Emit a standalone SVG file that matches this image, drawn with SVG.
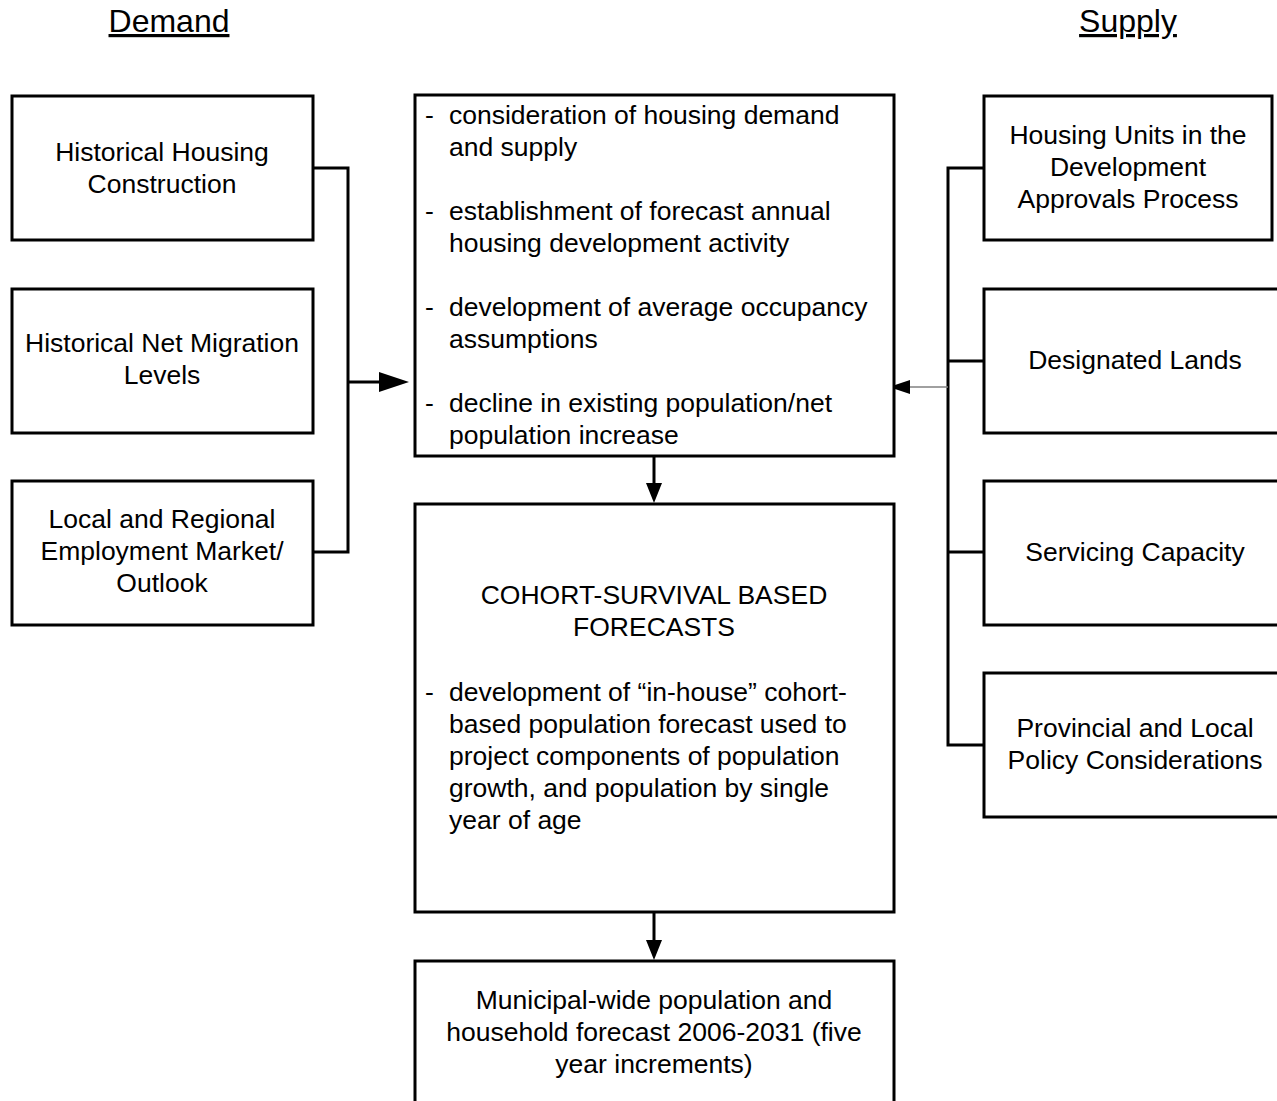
<svg xmlns="http://www.w3.org/2000/svg" width="1277" height="1101" viewBox="0 0 1277 1101">
<style>
text{font-family:"Liberation Sans",Arial,sans-serif;font-size:26.5px;fill:#000}
.c{text-anchor:middle}
.h{font-size:32px;text-anchor:middle;text-decoration:underline}
.box{fill:#fff;stroke:#000;stroke-width:3}
.ln{fill:none;stroke:#000;stroke-width:3}
.thin{fill:none;stroke:#808080;stroke-width:1.5}
</style>
<rect width="1277" height="1101" fill="#fff"/>
<g id="headings">
<text class="h" x="169" y="32">Demand</text>
<text class="h" x="1128" y="32">Supply</text>
</g>
<g id="connectors">
<path class="ln" d="M313 168H348V552H313M348 382H380"/>
<polygon points="379,372 409,382 379,392" fill="#000"/>
<path class="ln" d="M654 456V484"/>
<polygon points="646,483 662,483 654,503" fill="#000"/>
<path class="ln" d="M654 912V941"/>
<polygon points="646,940 662,940 654,960" fill="#000"/>
<path class="ln" d="M984 168H948V745H984M948 361H984M948 552H984"/>
<path class="thin" d="M948 387H908"/>
<polygon points="910,380 889,387 910,394" fill="#000"/>
</g>
<g id="hist-housing">
<rect class="box" x="12" y="96" width="301" height="144"/>
<text class="c" x="162" y="160.5">Historical Housing</text>
<text class="c" x="162" y="192.5">Construction</text>
</g>
<g id="hist-migration">
<rect class="box" x="12" y="289" width="301" height="144"/>
<text class="c" x="162" y="351.5">Historical Net Migration</text>
<text class="c" x="162" y="383.5">Levels</text>
</g>
<g id="employment">
<rect class="box" x="12" y="481" width="301" height="144"/>
<text class="c" x="162" y="527.5">Local and Regional</text>
<text class="c" x="162" y="559.5">Employment Market/</text>
<text class="c" x="162" y="591.5">Outlook</text>
</g>
<g id="consideration">
<rect class="box" x="415" y="95" width="479" height="361"/>
<text x="425" y="123.5">-</text><text x="449" y="123.5">consideration of housing demand</text>
<text x="449" y="155.5">and supply</text>
<text x="425" y="219.5">-</text><text x="449" y="219.5">establishment of forecast annual</text>
<text x="449" y="251.5">housing development activity</text>
<text x="425" y="315.5">-</text><text x="449" y="315.5">development of average occupancy</text>
<text x="449" y="347.5">assumptions</text>
<text x="425" y="411.5">-</text><text x="449" y="411.5">decline in existing population/net</text>
<text x="449" y="443.5">population increase</text>
</g>
<g id="cohort">
<rect class="box" x="415" y="504" width="479" height="408"/>
<text class="c" x="654" y="603.5">COHORT-SURVIVAL BASED</text>
<text class="c" x="654" y="635.5">FORECASTS</text>
<text x="425" y="700.5">-</text><text x="449" y="700.5">development of “in-house” cohort-</text>
<text x="449" y="732.5">based population forecast used to</text>
<text x="449" y="764.5">project components of population</text>
<text x="449" y="796.5">growth, and population by single</text>
<text x="449" y="828.5">year of age</text>
</g>
<g id="municipal">
<rect class="box" x="415" y="961" width="479" height="160"/>
<text class="c" x="654" y="1008.5">Municipal-wide population and</text>
<text class="c" x="654" y="1040.5">household forecast 2006-2031 (five</text>
<text class="c" x="654" y="1072.5">year increments)</text>
</g>
<g id="approvals">
<rect class="box" x="984" y="96" width="288" height="144"/>
<text class="c" x="1128" y="143.5">Housing Units in the</text>
<text class="c" x="1128" y="175.5">Development</text>
<text class="c" x="1128" y="207.5">Approvals Process</text>
</g>
<g id="designated">
<rect class="box" x="984" y="289" width="320" height="144"/>
<text class="c" x="1135" y="368.5">Designated Lands</text>
</g>
<g id="servicing">
<rect class="box" x="984" y="481" width="320" height="144"/>
<text class="c" x="1135" y="560.5">Servicing Capacity</text>
</g>
<g id="policy">
<rect class="box" x="984" y="673" width="320" height="144"/>
<text class="c" x="1135" y="736.5">Provincial and Local</text>
<text class="c" x="1135" y="768.5">Policy Considerations</text>
</g>
</svg>
